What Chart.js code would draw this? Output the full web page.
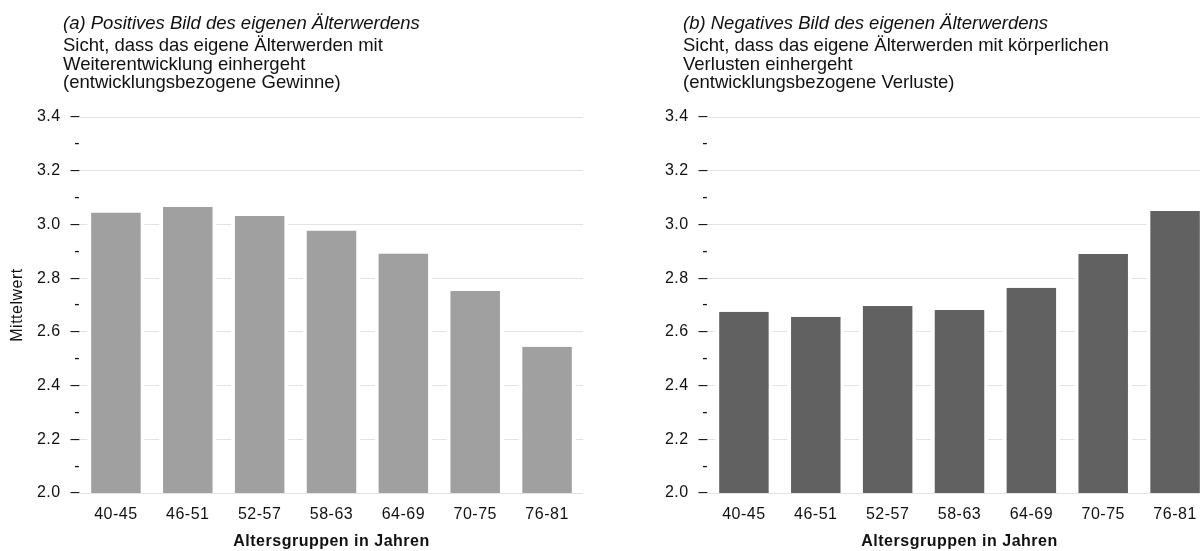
<!DOCTYPE html>
<html>
<head>
<meta charset="utf-8">
<script src="https://cdn.jsdelivr.net/npm/chart.js@4"></script>
<style>
html,body{margin:0;padding:0;background:#fff;overflow:hidden;width:1200px;height:551px;}
#wrap{position:relative;width:1200px;height:551px;overflow:hidden;}
canvas{position:absolute;top:0;}
.t{position:absolute;font-family:"Liberation Sans",Arial,sans-serif;color:#111;white-space:nowrap;font-size:18.5px;line-height:18.5px;}
.ti{font-style:italic;top:13.6px;}
.ts{top:36px;}
</style>
</head>
<body>
<div id="wrap">
  <canvas id="cA" width="600" height="551" style="left:0px"></canvas>
  <canvas id="cB" width="600" height="551" style="left:628px"></canvas>
  <div class="t ti" id="tA" style="left:63px"></div>
  <div class="t ts" id="sA" style="left:63px"></div>
  <div class="t ti" id="tB" style="left:683px"></div>
  <div class="t ts" id="sB" style="left:683px"></div>
</div>
<script>
// ---- data ----
const categories = ['40-45','46-51','52-57','58-63','64-69','70-75','76-81'];
const positiveValues = [3.044, 3.066, 3.031, 2.977, 2.892, 2.752, 2.545];
const negativeValues = [2.675, 2.656, 2.696, 2.681, 2.764, 2.890, 3.050];
const yMin = 2.0;
const yMax = 3.4;
const yStep = 0.1;
const titleA = '(a) Positives Bild des eigenen Älterwerdens';
const subtitleA = ['Sicht, dass das eigene Älterwerden mit', 'Weiterentwicklung einhergeht', '(entwicklungsbezogene Gewinne)'];
const titleB = '(b) Negatives Bild des eigenen Älterwerdens';
const subtitleB = ['Sicht, dass das eigene Älterwerden mit körperlichen', 'Verlusten einhergeht', '(entwicklungsbezogene Verluste)'];
const xTitle = 'Altersgruppen in Jahren';
const yTitle = 'Mittelwert';

// ---- titles (real text) ----
function setLines(id, lines){
  const el = document.getElementById(id);
  lines.forEach((l,i)=>{ if(i) el.appendChild(document.createElement('br')); el.appendChild(document.createTextNode(l)); });
}
setLines('tA',[titleA]); setLines('sA',subtitleA);
setLines('tB',[titleB]); setLines('sB',subtitleB);

const FAM = "'Liberation Sans', Arial, sans-serif";
Chart.defaults.font.family = FAM;
Chart.register({
  id:'letterSpace',
  beforeUpdate(c){ c.ctx.letterSpacing = '0.5px'; },
  beforeDraw(c){ c.ctx.letterSpacing = '0.5px'; }
});

const isMajor = v => Math.round(v*10) % 2 === 0;

function makeChart(id, values, color, showY){
  return new Chart(document.getElementById(id), {
    type:'bar',
    data:{
      labels: categories,
      datasets:[{
        data: values,
        backgroundColor: color,
        borderColor:'#ffffff',
        borderWidth:{left:4,right:4,top:0,bottom:0},
        borderSkipped:'start',
        barPercentage:0.8,
        categoryPercentage:1.0
      }]
    },
    options:{
      responsive:false,
      animation:false,
      layout:{padding:{top:117,left:0,right:17,bottom:0}},
      plugins:{legend:{display:false}, tooltip:{enabled:false}},
      scales:{
        x:{
          grid:{display:false, drawTicks:false},
          border:{display:false},
          ticks:{color:'#111', font:{size:16}, padding:12, autoSkip:false, maxRotation:0},
          title:{display:true, text:xTitle, color:'#111', font:{size:16, weight:'bold'}, padding:{top:0,bottom:0}},
          afterFit(s){ s.height = 58; }
        },
        y:{
          min:yMin, max:yMax,
          border:{display:false},
          grid:{drawTicks:false, lineWidth:1, color: c => isMajor(c.tick.value) ? '#e3e3e3' : 'rgba(0,0,0,0)'},
          ticks:{stepSize:yStep, autoSkip:false, padding:0, color:'#111', font:{size:16},
            callback: v => isMajor(v) ? (v.toFixed(1) + '  \u2013') : '-'},
          title:{display:showY, text:yTitle, color:'#111', font:{size:16}, padding:{top:8.4,bottom:0}},
          afterFit(s){ s.width = 80; }
        }
      }
    }
  });
}
makeChart('cA', positiveValues, '#a0a0a0', true);
makeChart('cB', negativeValues, '#616161', false);
</script>
</body>
</html>
